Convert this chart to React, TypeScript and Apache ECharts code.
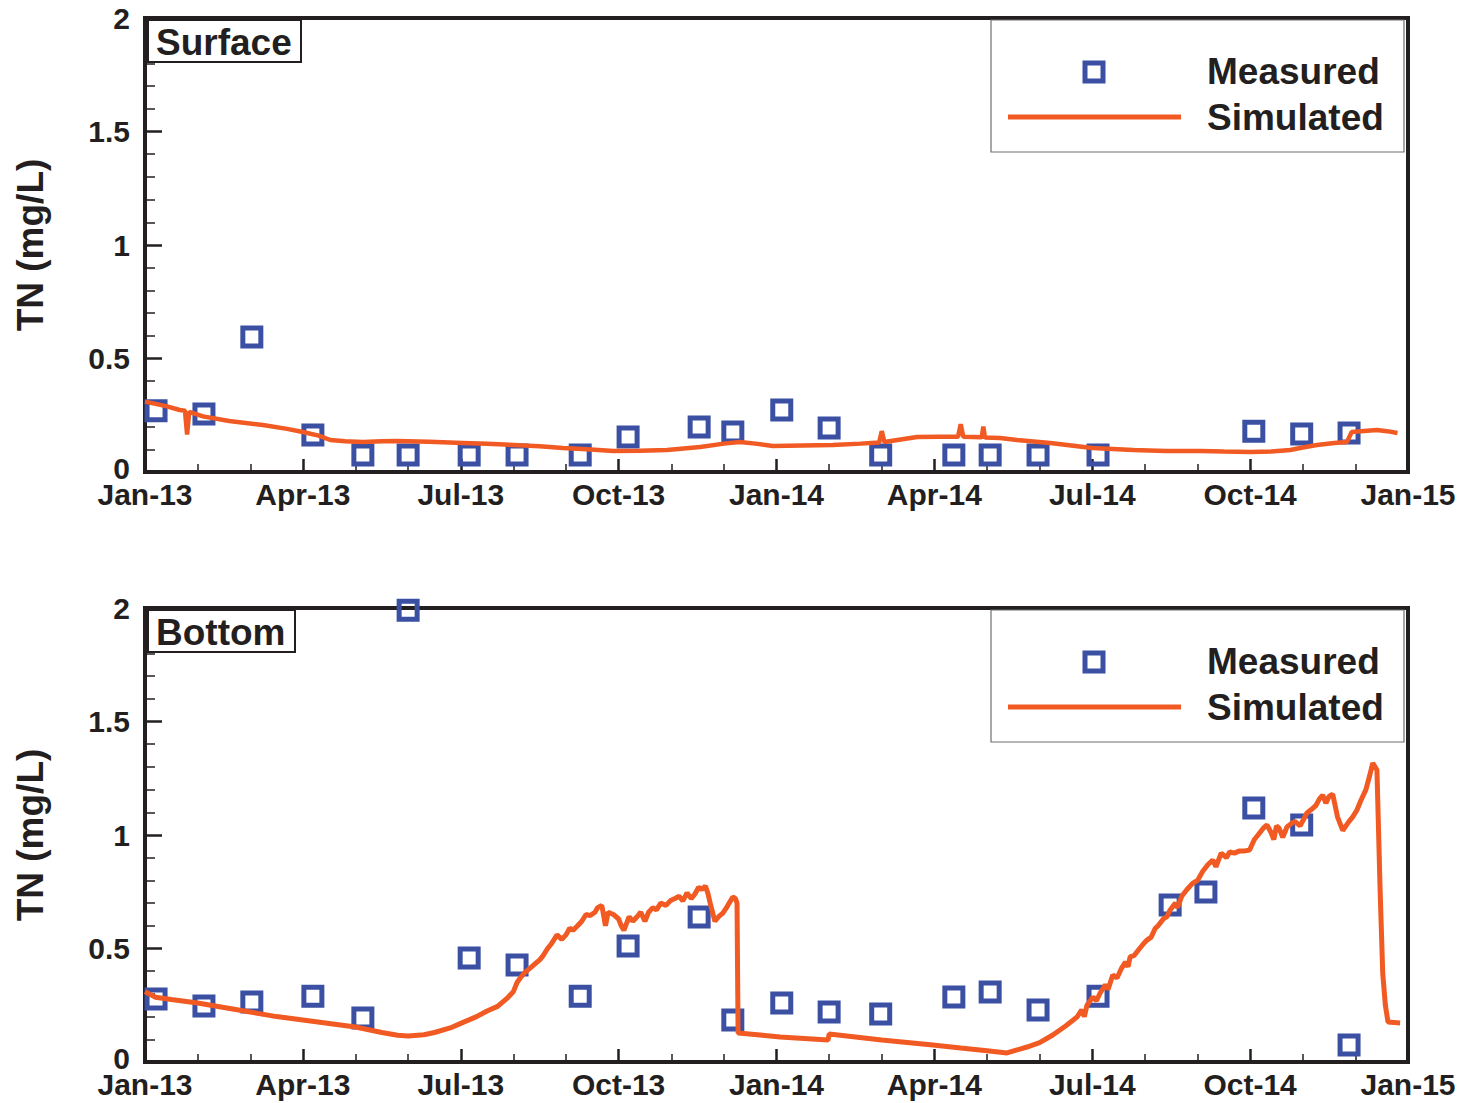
import React, { useEffect, useRef } from "react";
import * as echarts from "echarts";

// x values are months since Jan 2013
const xTickLabels = ["Jan-13", "Apr-13", "Jul-13", "Oct-13", "Jan-14", "Apr-14", "Jul-14", "Oct-14", "Jan-15"];
const panelNames = ["Surface", "Bottom"];
const legendNames = ["Measured", "Simulated"];
const yAxisName = "TN (mg/L)";

const measuredMonths = [0.21, 1.12, 2.03, 3.19, 4.14, 5.0, 6.16, 7.07, 8.27, 9.18, 10.53, 11.17, 12.1, 13.0, 13.98, 15.37, 16.06, 16.97, 18.11];
const surfaceMeasuredMonths = [...measuredMonths, 21.07, 21.98, 22.88];
const surfaceMeasuredTN = [0.27, 0.255, 0.595, 0.163, 0.075, 0.075, 0.075, 0.075, 0.075, 0.154, 0.198, 0.176, 0.273, 0.194, 0.075, 0.075, 0.075, 0.075, 0.075, 0.18, 0.167, 0.172];

const bottomMeasuredMonths = [...measuredMonths, 19.48, 20.16, 21.07, 21.98, 22.88];
const bottomMeasuredTN = [0.278, 0.247, 0.264, 0.29, 0.194, 1.99, 0.458, 0.427, 0.29, 0.511, 0.639, 0.185, 0.26, 0.22, 0.211, 0.286, 0.308, 0.229, 0.29, 0.692, 0.749, 1.119, 1.044, 0.075];

const surfaceSimMonths = [0, 0.4, 0.66, 0.76, 0.8, 0.84, 1.1, 1.6, 2.24, 2.7, 3.0, 3.3, 3.52, 3.8, 4.14, 4.5, 4.79, 5.4, 6.04, 6.5, 7.0, 7.5, 7.94, 8.4, 8.9, 9.4, 9.92, 10.55, 11.0, 11.3, 11.6, 11.93, 12.5, 13.07, 13.6, 13.95, 14.0, 14.05, 14.67, 15.1, 15.45, 15.5, 15.55, 15.9, 15.93, 15.96, 16.25, 16.57, 17.2, 18.0, 18.78, 19.4, 20.05, 20.5, 21.0, 21.4, 21.76, 22.0, 22.27, 22.6, 22.84, 22.93, 23.1, 23.41, 23.6, 23.8];
const surfaceSimTN = [0.31, 0.29, 0.273, 0.27, 0.165, 0.265, 0.245, 0.225, 0.207, 0.19, 0.176, 0.16, 0.141, 0.135, 0.132, 0.136, 0.137, 0.133, 0.128, 0.124, 0.119, 0.113, 0.106, 0.1, 0.092, 0.094, 0.097, 0.11, 0.125, 0.132, 0.125, 0.115, 0.117, 0.119, 0.125, 0.13, 0.18, 0.132, 0.154, 0.155, 0.155, 0.21, 0.155, 0.153, 0.2, 0.152, 0.15, 0.141, 0.128, 0.106, 0.097, 0.093, 0.092, 0.09, 0.088, 0.09, 0.097, 0.108, 0.119, 0.128, 0.132, 0.176, 0.18, 0.185, 0.18, 0.172];

const bottomSimMonths = [
  0, 0.2, 0.5, 1.0, 1.5, 2.0, 2.5, 3.0, 3.5, 4.0, 4.5, 4.8, 5.0, 5.3, 5.5, 5.8, 6.0, 6.3, 6.5, 6.7, 6.9,
  7.0, 7.07, 7.13, 7.2, 7.3, 7.4, 7.5, 7.57, 7.65, 7.72, 7.83, 7.92, 8.0, 8.07, 8.13, 8.22, 8.3, 8.38, 8.46, 8.55, 8.6, 8.68, 8.72, 8.75, 8.8, 8.9,
  9.0, 9.05, 9.1, 9.2, 9.27, 9.35, 9.42, 9.5, 9.57, 9.65, 9.72, 9.8, 9.9, 9.98, 10.07, 10.15, 10.22, 10.3, 10.38, 10.45, 10.52, 10.58, 10.65, 10.7,
  10.74, 10.83, 10.9, 10.98, 11.05, 11.1, 11.17, 11.22, 11.25, 11.27, 11.69, 12.07, 12.98, 13.0, 13.5, 14.0, 14.97, 15.5, 16.0, 16.38, 16.76, 17.0,
  17.25, 17.5, 17.71, 17.8, 17.85, 17.9, 18.01, 18.08, 18.15, 18.25, 18.3, 18.39, 18.47, 18.55, 18.63, 18.68, 18.72, 18.8, 18.9, 18.97, 19.04,
  19.12, 19.2, 19.25, 19.35, 19.42, 19.48, 19.58, 19.62, 19.7, 19.8, 19.91, 20.0, 20.1, 20.2, 20.29, 20.35, 20.45, 20.55, 20.61, 20.7, 20.8, 20.9,
  20.99, 21.08, 21.15, 21.25, 21.32, 21.4, 21.45, 21.5, 21.55, 21.62, 21.7, 21.78, 21.85, 21.95, 22.08, 22.15, 22.25, 22.32, 22.38, 22.44, 22.5,
  22.57, 22.66, 22.76, 22.82, 22.88, 22.95, 23.03, 23.1, 23.2, 23.27, 23.33, 23.41, 23.47, 23.52, 23.57, 23.62, 23.85,
];
const bottomSimTN = [
  0.31, 0.285, 0.275, 0.26, 0.24, 0.22, 0.2, 0.185, 0.17, 0.154, 0.13, 0.118, 0.115, 0.12, 0.13, 0.15, 0.17, 0.2, 0.225, 0.245, 0.285,
  0.31, 0.35, 0.37, 0.39, 0.41, 0.43, 0.45, 0.47, 0.5, 0.52, 0.56, 0.54, 0.56, 0.59, 0.58, 0.6, 0.62, 0.65, 0.645, 0.66, 0.68, 0.69, 0.64, 0.6, 0.66, 0.65,
  0.63, 0.6, 0.58, 0.64, 0.62, 0.64, 0.66, 0.62, 0.66, 0.68, 0.67, 0.7, 0.69, 0.71, 0.72, 0.73, 0.71, 0.745, 0.72, 0.74, 0.77, 0.76, 0.775, 0.74,
  0.7, 0.62, 0.64, 0.656, 0.68, 0.7, 0.727, 0.72, 0.7, 0.128, 0.119, 0.11, 0.097, 0.123, 0.11, 0.097, 0.075, 0.062, 0.05, 0.04, 0.066, 0.085,
  0.119, 0.16, 0.198, 0.23, 0.2, 0.25, 0.286, 0.27, 0.304, 0.34, 0.32, 0.383, 0.37, 0.41, 0.44, 0.42, 0.463, 0.47, 0.5, 0.52, 0.537,
  0.55, 0.59, 0.6, 0.63, 0.64, 0.67, 0.7, 0.68, 0.73, 0.76, 0.788, 0.8, 0.84, 0.87, 0.89, 0.86, 0.92, 0.9, 0.925, 0.92, 0.93, 0.93,
  0.934, 0.98, 1.0, 1.03, 1.044, 1.01, 0.98, 1.04, 1.03, 0.99, 1.035, 1.05, 1.06, 1.04, 1.097, 1.11, 1.13, 1.16, 1.176, 1.14, 1.17,
  1.18, 1.08, 1.02, 1.04, 1.06, 1.08, 1.11, 1.15, 1.2, 1.26, 1.317, 1.286, 0.758, 0.39, 0.25, 0.176, 0.172,
];

const INK = "#231f20";
const BLUE = "#3b50a3";
const ORANGE = "#f15a22";
const FONT = "Liberation Sans";

const zip = (xs: number[], ys: number[]) => xs.map((x, i) => [x, ys[i]]);

export default function App() {
  const ref = useRef<HTMLDivElement>(null);
  useEffect(() => {
    if (!ref.current) return;
    const chart = echarts.init(ref.current, null, { renderer: "svg" });
    const gridTops = [18, 608];
    const grids = gridTops.map((top) => ({
      left: 145,
      right: 56,
      top,
      height: 454,
      show: true,
      borderColor: INK,
      borderWidth: 4,
      backgroundColor: "transparent",
    }));
    const xAxes = gridTops.map((_, i) => ({
      type: "value",
      gridIndex: i,
      min: 0,
      max: 24,
      interval: 3,
      axisLine: { show: true, lineStyle: { color: INK, width: 4 } },
      axisTick: { show: true, inside: true, length: 13, lineStyle: { color: INK, width: 2.5 } },
      minorTick: { show: true, splitNumber: 3, length: 8, lineStyle: { color: INK, width: 1.5 } },
      splitLine: { show: false },
      axisLabel: {
        margin: 11,
        color: INK,
        fontFamily: FONT,
        fontWeight: "bold",
        fontSize: 30,
        lineHeight: 22,
        formatter: (v: number) => xTickLabels[Math.round(v / 3)] ?? "",
        showMinLabel: true,
        showMaxLabel: true,
      },
    }));
    const yAxes = gridTops.map((_, i) => ({
      type: "value",
      gridIndex: i,
      min: 0,
      max: 2,
      interval: 0.5,
      name: yAxisName,
      nameLocation: "middle",
      nameGap: 96,
      nameTextStyle: { color: INK, fontFamily: FONT, fontWeight: "bold", fontSize: 37 },
      axisLine: { show: true, lineStyle: { color: INK, width: 4 } },
      axisTick: { show: true, inside: true, length: 17, lineStyle: { color: INK, width: 2.5 } },
      minorTick: { show: true, splitNumber: 5, length: 10, lineStyle: { color: INK, width: 1.5 } },
      splitLine: { show: false },
      axisLabel: {
        margin: 15,
        color: INK,
        fontFamily: FONT,
        fontWeight: "bold",
        fontSize: 30,
        lineHeight: 20,
        formatter: (v: number) => (v === 0 ? "{zero|0}" : String(v)),
        rich: {
          zero: { fontFamily: FONT, fontWeight: "bold", fontSize: 30, color: INK, lineHeight: 20, padding: [0, 0, 8, 0] },
        },
      },
    }));
    const measured = [zip(surfaceMeasuredMonths, surfaceMeasuredTN), zip(bottomMeasuredMonths, bottomMeasuredTN)];
    const simulated = [zip(surfaceSimMonths, surfaceSimTN), zip(bottomSimMonths, bottomSimTN)];
    const series: any[] = [];
    gridTops.forEach((_, i) => {
      series.push({
        name: legendNames[0],
        type: "scatter",
        xAxisIndex: i,
        yAxisIndex: i,
        symbol: "rect",
        symbolSize: 18,
        itemStyle: { color: "rgba(255,255,255,0)", borderColor: BLUE, borderWidth: 5, opacity: 1 },
        data: measured[i],
        z: 2,
        clip: false,
      });
      series.push({
        name: legendNames[1],
        type: "line",
        xAxisIndex: i,
        yAxisIndex: i,
        showSymbol: false,
        symbol: "none",
        lineStyle: { color: ORANGE, width: i === 0 ? 4.5 : 5 },
        data: simulated[i],
        z: 3,
      });
    });
    const graphics: any[] = [];
    gridTops.forEach((top, i) => {
      const dy = top - 18;
      const labelW = i === 0 ? 153 : 147;
      graphics.push({
        type: "rect",
        shape: { x: 148, y: 20 + dy, width: labelW, height: 42 },
        style: { fill: "#fff", stroke: INK, lineWidth: 2 },
        z: 10,
      });
      graphics.push({
        type: "text",
        x: 156,
        y: 42 + dy,
        style: { text: panelNames[i], font: `bold 37px "${FONT}"`, fill: INK, verticalAlign: "middle", align: "left" },
        z: 11,
      });
      graphics.push({
        type: "rect",
        shape: { x: 991, y: 20 + dy, width: 413, height: 132 },
        style: { fill: "#fff", stroke: "#6d6e70", lineWidth: 1.2 },
        z: 10,
      });
      graphics.push({
        type: "rect",
        shape: { x: 1085, y: 63 + dy, width: 18, height: 18 },
        style: { fill: "none", stroke: BLUE, lineWidth: 5 },
        z: 11,
      });
      graphics.push({
        type: "line",
        shape: { x1: 1008, y1: 117 + dy, x2: 1181, y2: 117 + dy },
        style: { stroke: ORANGE, lineWidth: 5 },
        z: 11,
      });
      graphics.push({
        type: "text",
        x: 1207,
        y: 71 + dy,
        style: { text: legendNames[0], font: `bold 37px "${FONT}"`, fill: INK, verticalAlign: "middle", align: "left" },
        z: 11,
      });
      graphics.push({
        type: "text",
        x: 1207,
        y: 117 + dy,
        style: { text: legendNames[1], font: `bold 37px "${FONT}"`, fill: INK, verticalAlign: "middle", align: "left" },
        z: 11,
      });
    });
    chart.setOption({
      animation: false,
      backgroundColor: "#fff",
      textStyle: { fontFamily: FONT },
      grid: grids,
      xAxis: xAxes,
      yAxis: yAxes,
      series,
      graphic: graphics,
    });
    return () => chart.dispose();
  }, []);
  return <div ref={ref} style={{ position: "fixed", left: 0, top: 0, width: 1464, height: 1103 }} />;
}
